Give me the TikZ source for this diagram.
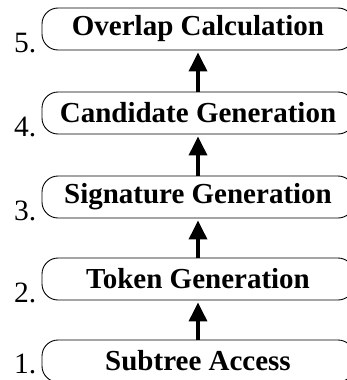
\documentclass[tikz,border=0pt]{standalone}
\usepackage{fontspec}
\setmainfont{Liberation Serif}
\usetikzlibrary{arrows.meta}
\tikzset{
  stage/.style={draw, line width=0.9pt, rounded corners=16pt,
    minimum width=312pt, minimum height=42pt, inner sep=0pt,
    font=\fontsize{29}{31}\selectfont\bfseries},
  num/.style={anchor=base east, inner sep=0pt,
    font=\fontsize{29.5}{31}\selectfont},
}
\begin{document}
\begin{tikzpicture}[x=1pt,y=1pt]
      \useasboundingbox (0,0) rectangle (347,-380);
      \path
        (198,-361) node[stage] (1){Subtree Access}
        (198,-279) node[stage] (2){Token Generation}
        (198,-197) node[stage] (3){Signature Generation}
        (198,-113) node[stage] (4){Candidate Generation}
        (198,-29) node[stage] (5){Overlap Calculation};
      \path
        ([shift={(-5,9)}]1.south west) node[num] (n1){1.}
        ([shift={(-5,-2)}]2.south west) node[num] (n2){2.}
        ([shift={(-5,-2)}]3.south west) node[num] (n3){3.}
        ([shift={(-5,-2)}]4.south west) node[num] (n4){4.}
        ([shift={(-5,-2)}]5.south west) node[num] (n5){5.};
      \begin{scope}[-{Triangle[length=19pt,width=18pt]}, line width=3.5pt, shorten >=2pt]
        \draw (1) to (2);
        \draw (2) to (3);
        \draw (3) to (4);
        \draw (4) to (5);
      \end{scope}
    \end{tikzpicture}
\end{document}
